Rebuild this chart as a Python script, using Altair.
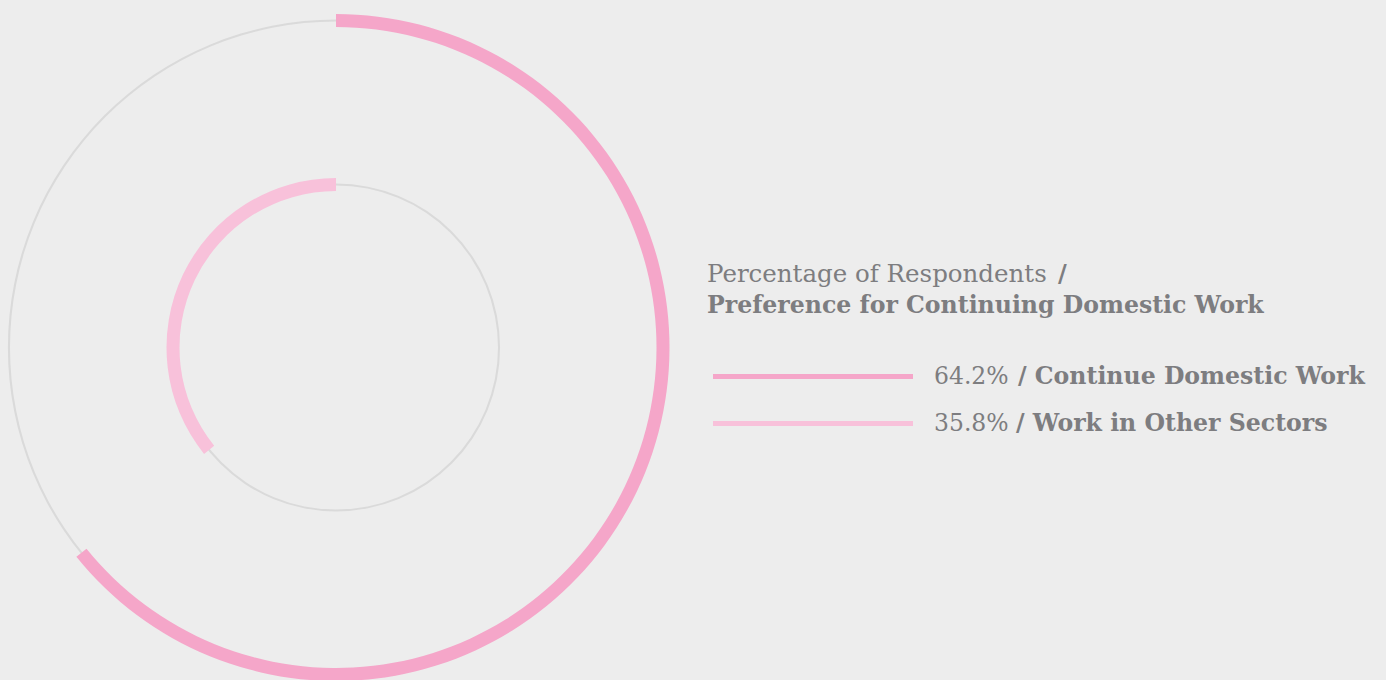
import math
import altair as alt
import pandas as pd

categories = ["Continue Domestic Work", "Work in Other Sectors"]
values = [64.2, 35.8]
colors = ["#f5a6c9", "#f8c1da"]
title_regular = "Percentage of Respondents"
title_bold = "Preference for Continuing Domestic Work"

TAU = 2 * math.pi
df = pd.DataFrame({"category": categories, "value": values})
df["pct"] = df["value"].map(lambda v: f"{v}%")
df["label"] = "/ " + df["category"]
# outer ring runs clockwise from the top, inner ring counter-clockwise
df["start"] = [0.0, TAU * (1 - values[1] / 100)]
df["end"] = [TAU * values[0] / 100, TAU]

ring_df = pd.DataFrame({"start": [0.0], "end": [TAU]})

FONT = "DejaVu Serif"
TXT = "#7d7d80"
CX, CY = 336, 347.5

base = alt.Chart(df)

def ring(r_out, r_in):
    return alt.Chart(ring_df).mark_arc(fill="#dadada").encode(
        theta=alt.Theta("start:Q", scale=None),
        theta2="end:Q",
        radius=alt.value(r_out),
        radius2=alt.value(r_in),
        x=alt.value(CX), y=alt.value(CY),
    )

def arc(cat, color, r_out, r_in):
    return base.transform_filter(alt.datum.category == cat).mark_arc(fill=color).encode(
        theta=alt.Theta("start:Q", scale=None),
        theta2="end:Q",
        radius=alt.value(r_out),
        radius2=alt.value(r_in),
        x=alt.value(CX), y=alt.value(CY),
    )

outer_ring = ring(328, 326)
inner_ring = ring(164, 162)
outer_arc = arc(categories[0], colors[0], 333.5, 320.5)
inner_arc = arc(categories[1], colors[1], 169.5, 156.5)

def pscale(rng):
    return alt.Scale(type="point", domain=categories, range=rng, padding=0)

yscale = pscale([376.5, 423.5])
rules = base.mark_rule(strokeWidth=5).encode(
    x=alt.value(713), x2=alt.value(913),
    y=alt.Y("category:N", scale=yscale, axis=None),
    color=alt.Color("category:N", scale=alt.Scale(domain=categories, range=colors), legend=None),
)

pct_text = base.mark_text(align="left", baseline="alphabetic", dy=7.5, font=FONT, fontSize=23.5, color=TXT).encode(
    x=alt.value(934), y=alt.Y("category:N", scale=yscale, axis=None), text="pct:N"
)
lab_text = base.mark_text(align="left", baseline="alphabetic", dy=7.5, font=FONT, fontSize=23.6, fontWeight="bold", color=TXT).encode(
    x=alt.X("category:N", scale=pscale([1018, 1016]), axis=None),
    y=alt.Y("category:N", scale=yscale, axis=None), text="label:N"
)

tdf = pd.DataFrame({"a": [title_regular], "b": [title_bold]})
t1 = alt.Chart(tdf).mark_text(align="left", baseline="alphabetic", font=FONT, fontSize=24.5, color=TXT).encode(
    x=alt.value(707), y=alt.value(282), text="a:N")
t1b = alt.Chart(tdf).mark_text(align="left", baseline="alphabetic", font=FONT, fontSize=24, fontWeight="bold", color=TXT).encode(
    x=alt.value(1058), y=alt.value(282), text=alt.value("/"))
t2 = alt.Chart(tdf).mark_text(align="left", baseline="alphabetic", font=FONT, fontSize=23.6, fontWeight="bold", color=TXT).encode(
    x=alt.value(707), y=alt.value(313), text="b:N")

chart = alt.layer(
    outer_ring, inner_ring, outer_arc, inner_arc, rules, pct_text, lab_text, t1, t1b, t2
).properties(
    width=1386, height=680, background="#ededed", padding=0,
    autosize=alt.AutoSizeParams(type="none"),
).configure_view(stroke=None)

chart.save("out.html", embed_options={"renderer": "svg", "actions": False})
